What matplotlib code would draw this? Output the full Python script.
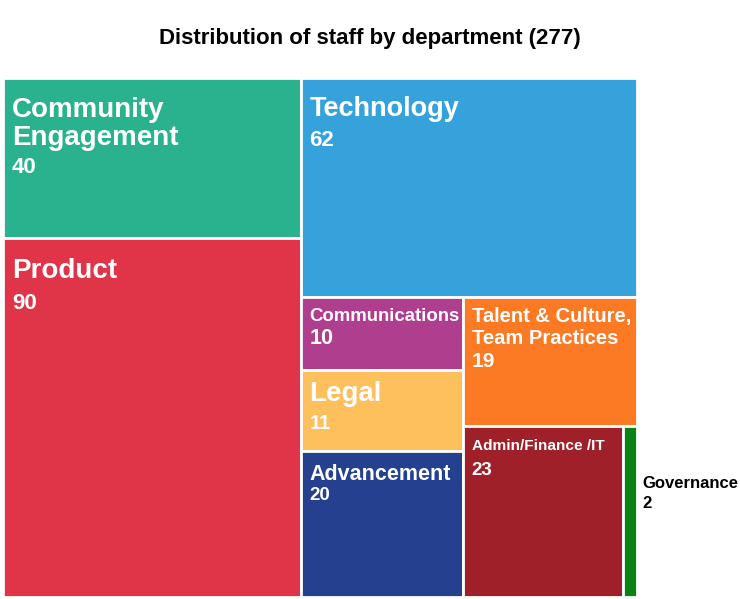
import matplotlib
matplotlib.use("Agg")
import matplotlib.pyplot as plt
from matplotlib.patches import Rectangle

plt.rcParams['font.family'] = ['Liberation Sans', 'DejaVu Sans']

# ---- data ----
names = ["Community\nEngagement", "Product", "Technology", "Communications", "Legal",
         "Advancement", "Talent & Culture,\nTeam Practices", "Admin/Finance /IT", "Governance"]
values = [40, 90, 62, 10, 11, 20, 19, 23, 2]
colors = ["#2ab28f", "#e03448", "#36a2dc", "#b03e8f", "#fec05d",
          "#24408e", "#fc7a24", "#a0202a", "#0a8214"]
title = "Distribution of staff by department (277)"

# ---- label styling (pixels / points) ----
name_sizes = [20, 20, 19.5, 13.4, 20, 15.5, 14.5, 11.1, 12]
num_sizes = [16, 16, 16, 15.5, 14.5, 13.5, 15, 13.5, 12]
name_pad = [19, 20, 18, 11, 11, 13, 10, 13, 50]
num_pad = [79, 55, 52, 31, 44, 36, 55, 36, 70]
line_sp = [1.08, 1.0, 1.0, 1.0, 1.0, 1.0, 1.22, 1.0, 1.0]
text_col = ['white'] * 8 + ['black']

# nesting of the treemap (indices into the lists above); 'h' splits across x, 'v' down y
tree = ('h', [('v', [0, 1]),
              ('v', [2, ('h', [('v', [3, 4, 5]),
                               ('v', [6, ('h', [7, 8])])])])])


def total(node):
    if isinstance(node, int):
        return values[node]
    return sum(total(c) for c in node[1])


def layout(node, x0, y0, x1, y1, out):
    if isinstance(node, int):
        out[node] = (x0, y0, x1, y1)
        return
    orient, children = node
    tot = total(node)
    if orient == 'h':
        x = x0
        for c in children:
            w = (x1 - x0) * total(c) / tot
            layout(c, x, y0, x + w, y1, out)
            x += w
    else:
        y = y1
        for c in children:
            h = (y1 - y0) * total(c) / tot
            layout(c, x0, y - h, x1, y, out)
            y -= h


rects = {}
layout(tree, 0.0, 0.0, 1.0, 1.0, rects)

fig = plt.figure(figsize=(7.40, 5.99), dpi=100)
ax = fig.add_axes([3 / 740, 2 / 599, 634 / 740, 519 / 599])
ax.set_xlim(0, 1)
ax.set_ylim(0, 1)
ax.axis('off')

for i, (x0, y0, x1, y1) in rects.items():
    ax.add_patch(Rectangle((x0, y0), x1 - x0, y1 - y0, facecolor=colors[i],
                           edgecolor='white', linewidth=2.0))
    if text_col[i] == 'black':
        # small slice: label sits outside, to the right
        anchor, ox = (x1, y1), 5
    else:
        anchor, ox = (x0, y1), 9
    ax.annotate(names[i], xy=anchor, xytext=(ox, -name_pad[i]), textcoords='offset pixels',
                ha='left', va='top', fontsize=name_sizes[i], fontweight='bold',
                color=text_col[i], linespacing=line_sp[i], annotation_clip=False)
    ax.annotate(str(values[i]), xy=anchor, xytext=(ox, -num_pad[i]),
                textcoords='offset pixels', ha='left', va='top',
                fontsize=num_sizes[i], fontweight='bold', color=text_col[i],
                annotation_clip=False)

fig.text(0.5, 1 - 28 / 599, title, ha='center', va='top', fontsize=16, fontweight='bold')

fig.savefig("out.png", dpi=100, facecolor='white')
